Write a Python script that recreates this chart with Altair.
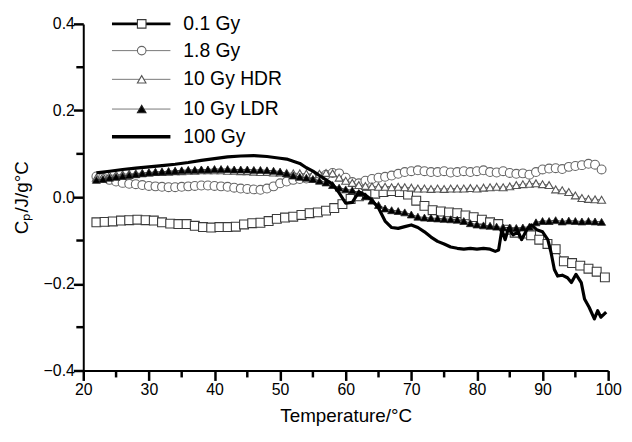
import altair as alt
import pandas as pd

# ---------------- data ----------------
series_labels = ["0.1 Gy", "1.8 Gy", "10 Gy HDR", "10 Gy LDR", "100 Gy"]

temp_sq = [22.0, 23.25, 24.5, 25.75, 27.0, 28.25, 29.5, 30.75, 32.0, 33.25, 34.5, 35.75,
           37.0, 38.25, 39.5, 40.75, 42.0, 43.25, 44.5, 45.75, 47.0, 48.25, 49.5, 50.75,
           52.0, 53.25, 54.5, 55.75, 57.0, 58.25, 59.5, 60.75, 62.0, 63.25, 64.5, 65.75,
           67.0, 68.25, 69.5, 70.75, 72.0, 73.25, 74.5, 75.75, 77.0, 78.25, 79.5, 80.75,
           82.0, 83.25, 84.5, 85.75, 87.0, 88.25, 89.5, 90.75, 92.0, 93.25, 94.5, 95.75,
           97.0, 98.25, 99.5]
cp_01 = [-0.058, -0.057, -0.056, -0.054, -0.053, -0.052, -0.053, -0.054, -0.058, -0.061,
         -0.062, -0.062, -0.066, -0.069, -0.070, -0.069, -0.069, -0.068, -0.063, -0.060,
         -0.059, -0.055, -0.050, -0.047, -0.045, -0.041, -0.037, -0.035, -0.031, -0.025,
         -0.016, -0.004, 0.002, 0.006, 0.008, 0.012, 0.014, 0.012, 0.006, -0.008,
         -0.020, -0.030, -0.033, -0.035, -0.037, -0.042, -0.046, -0.052, -0.058, -0.062,
         -0.075, -0.082, -0.084, -0.088, -0.098, -0.108, -0.120, -0.148, -0.152, -0.158,
         -0.165, -0.172, -0.185]

temp_1c = [22, 23, 24, 25, 26, 27, 28, 29, 30, 31, 32, 33, 34, 35, 36, 37, 38, 39, 40,
           41, 42, 43, 44, 45, 46, 47, 48, 49, 50, 51, 52, 53, 54, 55, 56, 57, 58, 59, 60,
           61, 62, 63, 64, 65, 66, 67, 68, 69, 70, 71, 72, 73, 74, 75, 76, 77, 78, 79, 80,
           81, 82, 83, 84, 85, 86, 87, 88, 89, 90, 91, 92, 93, 94, 95, 96, 97, 98, 99]
cp_18 = [0.048, 0.045, 0.040, 0.036, 0.033, 0.031, 0.030, 0.028, 0.026, 0.025, 0.024,
         0.023, 0.023, 0.024, 0.025, 0.026, 0.027, 0.027, 0.026, 0.025, 0.024, 0.022,
         0.020, 0.019, 0.018, 0.017, 0.020, 0.025, 0.032, 0.036, 0.040, 0.042, 0.043,
         0.045, 0.048, 0.052, 0.056, 0.055, 0.045, 0.035, 0.032, 0.038, 0.042, 0.045,
         0.047, 0.050, 0.054, 0.058, 0.060, 0.062, 0.060, 0.058, 0.058, 0.060, 0.057,
         0.058, 0.060, 0.058, 0.060, 0.062, 0.058, 0.057, 0.060, 0.056, 0.054, 0.055,
         0.052, 0.058, 0.064, 0.066, 0.067, 0.065, 0.070, 0.072, 0.074, 0.077, 0.075,
         0.064]
cp_hdr = [0.045, 0.048, 0.050, 0.052, 0.053, 0.054, 0.055, 0.056, 0.057, 0.058, 0.058,
          0.059, 0.060, 0.060, 0.061, 0.061, 0.062, 0.062, 0.062, 0.062, 0.061, 0.061,
          0.060, 0.060, 0.059, 0.058, 0.058, 0.057, 0.057, 0.056, 0.055, 0.055, 0.054,
          0.053, 0.054, 0.056, 0.055, 0.045, 0.038, 0.033, 0.028, 0.026, 0.025, 0.024,
          0.024, 0.023, 0.024, 0.023, 0.022, 0.020, 0.020, 0.019, 0.020, 0.019, 0.020,
          0.020, 0.020, 0.021, 0.020, 0.022, 0.023, 0.024, 0.023, 0.025, 0.028, 0.030,
          0.031, 0.032, 0.030, 0.028, 0.018, 0.016, 0.012, 0.004, -0.002, -0.004, -0.005,
          -0.006]
cp_ldr = [0.040, 0.042, 0.045, 0.047, 0.049, 0.051, 0.053, 0.055, 0.057, 0.058, 0.059,
          0.060, 0.061, 0.062, 0.063, 0.063, 0.064, 0.064, 0.065, 0.065, 0.065, 0.064,
          0.064, 0.064, 0.063, 0.063, 0.062, 0.061, 0.059, 0.055, 0.050, 0.047, 0.045,
          0.042, 0.038, 0.034, 0.028, 0.022, 0.018, 0.016, 0.010, 0.002, -0.008, -0.018,
          -0.026, -0.030, -0.032, -0.035, -0.040, -0.045, -0.047, -0.048, -0.049, -0.050,
          -0.051, -0.052, -0.055, -0.060, -0.063, -0.065, -0.066, -0.068, -0.070, -0.070,
          -0.071, -0.070, -0.068, -0.058, -0.055, -0.055, -0.053, -0.056, -0.054, -0.055,
          -0.056, -0.055, -0.056, -0.057]

temp_100 = [22, 24, 26, 28, 30, 32, 34, 36, 38, 40, 42, 44, 46, 48, 50,
            51, 52, 53, 54, 55, 56, 57, 58, 59, 60, 61, 62, 63, 64, 65, 66, 67, 68, 69,
            70, 71, 72, 73, 74, 75, 76, 77, 78, 79, 80, 81, 82,
            82.8, 83.3, 83.8, 84.3, 84.8, 85.5, 86.3, 86.8, 87.6, 88.3, 89.1, 90.0, 90.8,
            91.3, 91.8, 92.3, 93.0, 93.8, 94.4, 95.1, 95.9, 96.4, 97.1, 97.9, 98.4, 98.9,
            99.7]
cp_100 = [0.056, 0.060, 0.064, 0.067, 0.070, 0.073, 0.076, 0.080, 0.085, 0.089, 0.093,
          0.095, 0.096, 0.094, 0.090,
          0.088, 0.083, 0.078, 0.068, 0.060, 0.050, 0.040, 0.030, 0.010, -0.014, -0.012,
          0.012, 0.005, -0.007, -0.025, -0.055, -0.070, -0.072, -0.068, -0.064, -0.070,
          -0.080, -0.092, -0.102, -0.108, -0.115, -0.118, -0.120, -0.118, -0.120, -0.118,
          -0.120,
          -0.125, -0.122, -0.075, -0.098, -0.072, -0.087, -0.080, -0.098, -0.075, -0.064,
          -0.075, -0.080, -0.098, -0.128, -0.167, -0.182, -0.180, -0.186, -0.197, -0.178,
          -0.197, -0.235, -0.254, -0.281, -0.262, -0.277, -0.265]

x_major = [20, 30, 40, 50, 60, 70, 80, 90, 100]
x_minor = [25, 35, 45, 55, 65, 75, 85, 95]
y_major = [-0.4, -0.2, 0.0, 0.2, 0.4]
y_minor = [-0.3, -0.1, 0.1, 0.3]

assert len(temp_sq) == len(cp_01)
assert len(temp_1c) == len(cp_18) == len(cp_hdr) == len(cp_ldr)
assert len(temp_100) == len(cp_100)

FONT = "Liberation Sans"

df01 = pd.DataFrame({"t": temp_sq, "cp": cp_01})
df18 = pd.DataFrame({"t": temp_1c, "cp": cp_18})
dfhdr = pd.DataFrame({"t": temp_1c, "cp": cp_hdr})
dfldr = pd.DataFrame({"t": temp_1c, "cp": cp_ldr})
df100 = pd.DataFrame({"t": temp_100, "cp": cp_100})

X = alt.X(
    "t:Q",
    scale=alt.Scale(domain=[20, 100], nice=False, zero=False),
    axis=alt.Axis(
        title="Temperature/°C",
        values=x_major,
        grid=False, ticks=True,
        domainColor="black", domainWidth=2,
        tickColor="black", tickWidth=2.5, tickSize=10,
        labelFont=FONT, labelFontSize=16, labelColor="black", labelPadding=1,
        labelFlush=False, labelOverlap=False,
        titleFont=FONT, titleFontSize=19, titleFontWeight="normal", titleColor="black",
        titlePadding=9,
    ),
)
Y = alt.Y(
    "cp:Q",
    scale=alt.Scale(domain=[-0.4, 0.4], nice=False, zero=False),
    axis=alt.Axis(
        title="Cₚ/J/g°C",
        values=y_major,
        labelExpr="format(datum.value, '.1f')",
        grid=False, ticks=True,
        domainColor="black", domainWidth=2,
        tickColor="black", tickWidth=2.5, tickSize=10,
        labelFont=FONT, labelFontSize=16, labelColor="black", labelPadding=-1,
        labelFlush=False, labelOverlap=False,
        titleFont=FONT, titleFontSize=19, titleFontWeight="normal", titleColor="black",
        titlePadding=12,
    ),
)

# minor ticks (through the same scales)
xminor = alt.Chart(pd.DataFrame({"t": x_minor})).mark_rule(
    color="black", strokeWidth=2.5).encode(x=X, y=alt.value(350), y2=alt.value(357))
yminor = alt.Chart(pd.DataFrame({"cp": y_minor})).mark_rule(
    color="black", strokeWidth=2.5).encode(y=Y, x=alt.value(0), x2=alt.value(-7))

sq_line = alt.Chart(df01).mark_line(color="#333", strokeWidth=1).encode(x=X, y=Y)
sq_pts = alt.Chart(df01).mark_point(shape="square", size=80, filled=True, fill="white",
                                    stroke="#3a3a3a", strokeWidth=1.1, opacity=1).encode(x=X, y=Y)
c_line = alt.Chart(df18).mark_line(color="#777", strokeWidth=1).encode(x=X, y=Y)
c_pts = alt.Chart(df18).mark_point(shape="circle", size=80, filled=True, fill="white",
                                   stroke="#666", strokeWidth=1.1, opacity=1).encode(x=X, y=Y)
h_line = alt.Chart(dfhdr).mark_line(color="#777", strokeWidth=1).encode(x=X, y=Y)
h_pts = alt.Chart(dfhdr).mark_point(shape="triangle-up", size=65, filled=True, fill="white",
                                    stroke="#555", strokeWidth=1.1, opacity=1).encode(x=X, y=Y)
l_line = alt.Chart(dfldr).mark_line(color="#444", strokeWidth=1).encode(x=X, y=Y)
l_pts = alt.Chart(dfldr).mark_point(shape="triangle-up", size=65, filled=True, fill="black",
                                    stroke="#222", strokeWidth=0.8, opacity=1).encode(x=X, y=Y)
line100 = alt.Chart(df100).mark_line(color="black", strokeWidth=3.2,
                                     strokeJoin="round").encode(x=X, y=Y)

# ---------------- manual legend (pixel positions inside plot area) ----------------
one = pd.DataFrame({"a": [0]})
leg_y = [0, 27, 56, 86, 114]
leg_x0, leg_x1, leg_xm, leg_xt = 29, 88, 59, 101
leg_styles = [
    dict(lw=3, lc="black", shape="square", fill="white", stroke="#3a3a3a"),
    dict(lw=1, lc="#777", shape="circle", fill="white", stroke="#666"),
    dict(lw=1, lc="#777", shape="triangle-up", fill="white", stroke="#555"),
    dict(lw=1, lc="#777", shape="triangle-up", fill="black", stroke="#222"),
    dict(lw=3.5, lc="black", shape=None, fill=None, stroke=None),
]
legend_layers = []
for lab, yy, st in zip(series_labels, leg_y, leg_styles):
    legend_layers.append(
        alt.Chart(one).mark_rule(color=st["lc"], strokeWidth=st["lw"]).encode(
            x=alt.value(leg_x0), x2=alt.value(leg_x1), y=alt.value(yy)))
    if st["shape"]:
        legend_layers.append(
            alt.Chart(one).mark_point(shape=st["shape"], size=75, filled=True,
                                      fill=st["fill"], stroke=st["stroke"],
                                      strokeWidth=1.1, opacity=1).encode(
                x=alt.value(leg_xm), y=alt.value(yy)))
    legend_layers.append(
        alt.Chart(one).mark_text(align="left", baseline="middle", font=FONT,
                                 fontSize=19.5, color="black").encode(
            x=alt.value(leg_xt), y=alt.value(yy), text=alt.value(lab)))

chart = alt.layer(
    xminor, yminor,
    sq_line, sq_pts, c_line, c_pts, h_line, h_pts, l_line, l_pts, line100,
    *legend_layers,
).properties(
    width=530, height=350,
    autosize=alt.AutoSizeParams(type="none"),
    padding={"left": 76, "top": 14, "right": 16, "bottom": 54},
).configure_view(stroke=None)

chart.save("out.html", embed_options={"renderer": "svg", "actions": False})
